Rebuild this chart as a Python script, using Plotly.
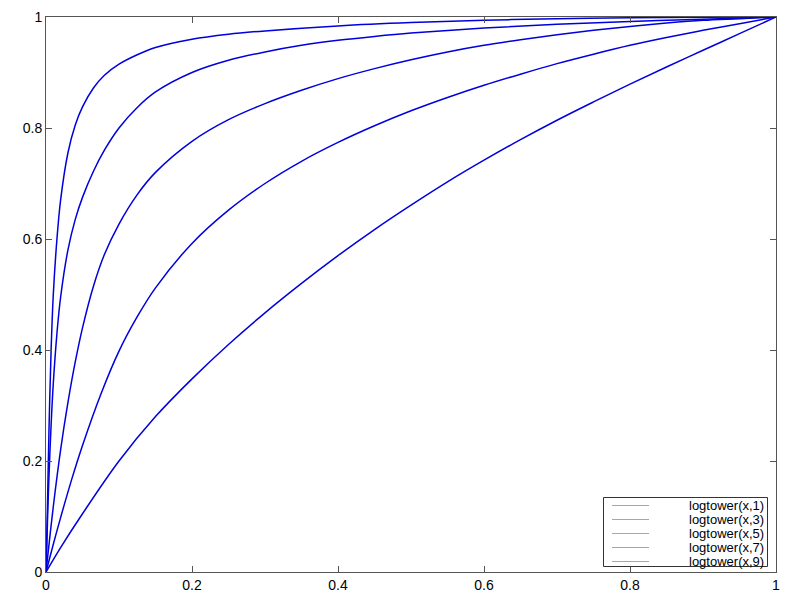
import plotly.graph_objs as go

# values
x_n1 = [0, 0.02, 0.05, 0.1, 0.15, 0.2, 0.25, 0.3, 0.35, 0.4, 0.45, 0.5, 0.55, 0.6, 0.65, 0.7, 0.75, 0.8, 0.85, 0.9, 0.95, 1.0]
y_n1 = [0, 0.044, 0.105, 0.2, 0.28, 0.348, 0.41, 0.467, 0.52, 0.57, 0.617, 0.661, 0.703, 0.742, 0.779, 0.814, 0.847, 0.879, 0.91, 0.94, 0.97, 1.0]

x_n3 = [0, 0.01, 0.02, 0.035, 0.05, 0.075, 0.1, 0.125, 0.15, 0.2, 0.25, 0.3, 0.35, 0.4, 0.45, 0.5, 0.55, 0.6, 0.65, 0.7, 0.75, 0.8, 0.85, 0.9, 0.95, 1.0]
y_n3 = [0, 0.05, 0.098, 0.166, 0.228, 0.32, 0.398, 0.46, 0.512, 0.592, 0.652, 0.7, 0.74, 0.774, 0.804, 0.831, 0.855, 0.877, 0.897, 0.916, 0.933, 0.949, 0.963, 0.976, 0.988, 1.0]

x_n5 = [0, 0.005, 0.01, 0.02, 0.03, 0.04, 0.05, 0.065, 0.08, 0.1, 0.125, 0.15, 0.2, 0.25, 0.3, 0.35, 0.4, 0.45, 0.5, 0.55, 0.6, 0.65, 0.7, 0.75, 0.8, 0.85, 0.9, 0.95, 1.0]
y_n5 = [0, 0.06, 0.118, 0.22, 0.305, 0.378, 0.44, 0.515, 0.572, 0.627, 0.68, 0.72, 0.776, 0.815, 0.844, 0.868, 0.889, 0.907, 0.923, 0.937, 0.949, 0.959, 0.968, 0.976, 0.983, 0.989, 0.994, 0.997, 1.0]

x_n7 = [0, 0.002, 0.004, 0.007, 0.01, 0.015, 0.02, 0.03, 0.04, 0.05, 0.065, 0.08, 0.1, 0.125, 0.15, 0.2, 0.25, 0.3, 0.35, 0.4, 0.45, 0.5, 0.6, 0.7, 0.8, 0.9, 1.0]
y_n7 = [0, 0.09, 0.17, 0.265, 0.34, 0.43, 0.495, 0.58, 0.635, 0.675, 0.722, 0.76, 0.8, 0.837, 0.865, 0.9, 0.922, 0.937, 0.949, 0.958, 0.965, 0.971, 0.98, 0.987, 0.992, 0.996, 1.0]

x_n9 = [0, 0.002, 0.004, 0.007, 0.01, 0.015, 0.02, 0.03, 0.04, 0.05, 0.065, 0.08, 0.1, 0.125, 0.15, 0.2, 0.25, 0.3, 0.4, 0.5, 0.6, 0.7, 0.8, 0.9, 1.0]
y_n9 = [0, 0.12, 0.25, 0.4, 0.5, 0.6, 0.67, 0.755, 0.805, 0.838, 0.872, 0.895, 0.915, 0.932, 0.945, 0.96, 0.969, 0.975, 0.984, 0.99, 0.994, 0.997, 0.9985, 0.9995, 1.0]

names = ["logtower(x,1)", "logtower(x,3)", "logtower(x,5)", "logtower(x,7)", "logtower(x,9)"]
xs_all = [x_n1, x_n3, x_n5, x_n7, x_n9]
ys_all = [y_n1, y_n3, y_n5, y_n7, y_n9]

tick_vals = [0, 0.2, 0.4, 0.6, 0.8, 1]
tick_text = ["0", "0.2", "0.4", "0.6", "0.8", "1"]

font_family = "Liberation Sans, Arial, sans-serif"

fig = go.Figure()

for name, xs, ys in zip(names, xs_all, ys_all):
    fig.add_trace(go.Scatter(
        x=xs, y=ys, mode="lines", name=name,
        line=dict(color="#0000dd", width=1.5, shape="spline", smoothing=1.0),
        showlegend=False, hoverinfo="skip"
    ))

# gnuplot-like key in the lower right: box, light sample lines, right-aligned text
# (page pixels -> paper coords; plot area is 730 x 555 px starting at page (46, 17))
def px_x(p):
    return (p - 46) / 730.0

def px_y(p):
    return (572 - p) / 555.0

fig.add_shape(type="rect", xref="paper", yref="paper",
              x0=px_x(603.5), x1=px_x(767.5), y0=px_y(566.5), y1=px_y(497.5),
              line=dict(color="#333333", width=1), fillcolor="white", layer="above")

for i, name in enumerate(names):
    yc = px_y(505.5 + i * 14)
    fig.add_shape(type="line", xref="paper", yref="paper",
                  x0=px_x(612), x1=px_x(649), y0=yc, y1=yc,
                  line=dict(color="#9c9cff", width=1), layer="above")
    fig.add_annotation(xref="paper", yref="paper", x=px_x(766), y=yc,
                       xanchor="right", yanchor="middle", text=name, showarrow=False,
                       font=dict(family=font_family, size=13, color="#000000"))

axis_style = dict(
    range=[0, 1],
    tickvals=tick_vals,
    ticktext=tick_text,
    ticks="inside",
    ticklen=6,
    tickcolor="#555555",
    showline=True,
    linecolor="#555555",
    linewidth=1,
    mirror="ticks",
    showgrid=False,
    zeroline=False,
    automargin=False,
    tickfont=dict(family=font_family, size=14, color="#000000"),
)

# the page body adds an 8px offset, so margins are reduced by 8
fig.update_layout(
    width=800, height=600,
    margin=dict(l=38, r=32, t=9, b=36),
    paper_bgcolor="white",
    plot_bgcolor="white",
    xaxis=axis_style,
    yaxis=axis_style,
    showlegend=False,
)

fig.write_html("out.html")
